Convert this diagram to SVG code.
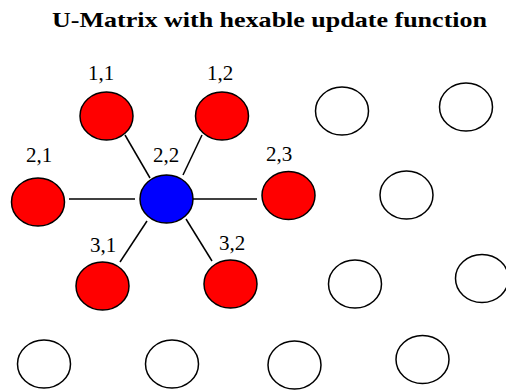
<svg xmlns="http://www.w3.org/2000/svg" width="506" height="390" viewBox="0 0 506 390">
<style>
.n{stroke:#000;stroke-width:1.5}
.r{fill:#ff0000}
.b{fill:#0000ff}
.e{fill:#fff}
.lbl{font-family:"Liberation Serif","Times New Roman",serif;font-size:21px;text-anchor:middle;fill:#000}
.title{font-family:"Liberation Serif","Times New Roman",serif;font-size:22px;font-weight:bold;fill:#000}
.c line{stroke:#000;stroke-width:1.5}
</style>
<rect width="506" height="390" fill="#fff"/>
<text class="title" x="52" y="27" textLength="435" lengthAdjust="spacingAndGlyphs">U-Matrix with hexable update function</text>
<g class="c" id="connectors">
<line x1="69" y1="199" x2="135" y2="199"/>
<line x1="193" y1="199" x2="257" y2="199"/>
<line x1="125" y1="135" x2="150" y2="178"/>
<line x1="202" y1="135" x2="183" y2="175"/>
<line x1="147" y1="221" x2="120" y2="262"/>
<line x1="186" y1="219" x2="212" y2="261"/>
</g>
<g id="n11"><ellipse class="n r" cx="106.5" cy="116" rx="26.5" ry="24"/><text class="lbl" x="101" y="80">1,1</text></g>
<g id="n12"><ellipse class="n r" cx="222" cy="116" rx="26.5" ry="24"/><text class="lbl" x="220" y="80">1,2</text></g>
<g id="e1"><ellipse class="n e" cx="342" cy="111" rx="26.5" ry="24"/></g>
<g id="e2"><ellipse class="n e" cx="466" cy="107" rx="26.5" ry="24"/></g>
<g id="n21"><ellipse class="n r" cx="38" cy="202" rx="26.5" ry="24"/><text class="lbl" x="39" y="162">2,1</text></g>
<g id="n22"><ellipse class="n b" cx="166.5" cy="199" rx="26.5" ry="24"/><text class="lbl" x="166" y="162">2,2</text></g>
<g id="n23"><ellipse class="n r" cx="288.5" cy="195.5" rx="26.5" ry="24"/><text class="lbl" x="279" y="161">2,3</text></g>
<g id="e3"><ellipse class="n e" cx="406.5" cy="195" rx="26.5" ry="24"/></g>
<g id="n31"><ellipse class="n r" cx="102.5" cy="286" rx="26.5" ry="24"/><text class="lbl" x="103" y="252">3,1</text></g>
<g id="n32"><ellipse class="n r" cx="230.5" cy="284" rx="26.5" ry="24"/><text class="lbl" x="232" y="250">3,2</text></g>
<g id="e4"><ellipse class="n e" cx="355" cy="284" rx="26.5" ry="24"/></g>
<g id="e5"><ellipse class="n e" cx="482" cy="278.5" rx="26.5" ry="24"/></g>
<g id="e6"><ellipse class="n e" cx="44" cy="364" rx="26.5" ry="24"/></g>
<g id="e7"><ellipse class="n e" cx="172" cy="364" rx="26.5" ry="24"/></g>
<g id="e8"><ellipse class="n e" cx="294.5" cy="365" rx="26.5" ry="24"/></g>
<g id="e9"><ellipse class="n e" cx="422.5" cy="359.5" rx="26.5" ry="24"/></g>
</svg>
